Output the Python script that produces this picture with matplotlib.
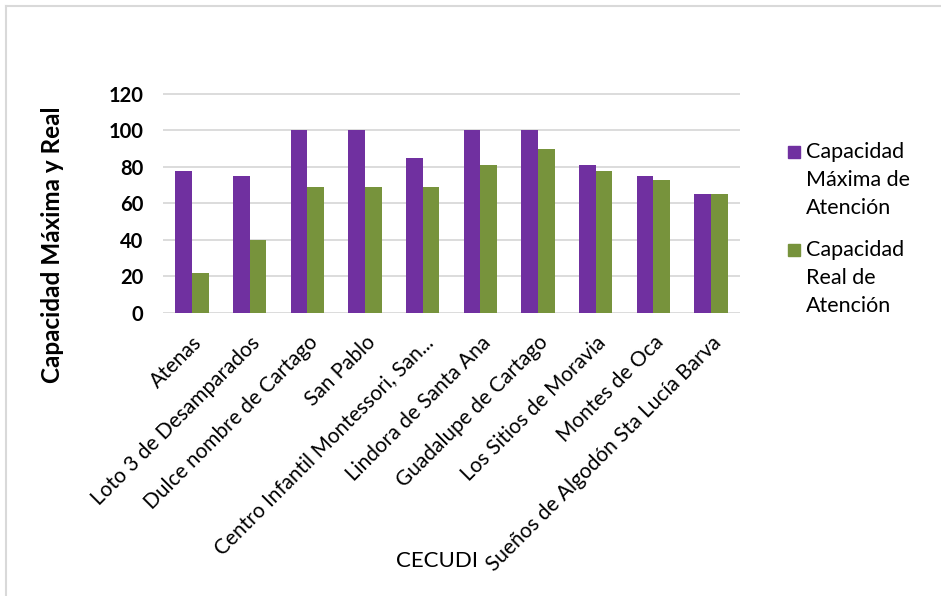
import numpy as np
import matplotlib.pyplot as plt
from matplotlib.lines import Line2D
from matplotlib.patches import Rectangle

plt.rcParams['font.family'] = ['Lato', 'DejaVu Sans']

# data
centros = ["Atenas", "Loto 3 de Desamparados", "Dulce nombre de Cartago", "San Pablo",
           "Centro Infantil Montessori, San...", "Lindora de Santa Ana",
           "Guadalupe de Cartago", "Los Sitios de Moravia", "Montes de Oca",
           "Sueños de Algodón Sta Lucía Barva"]
cap_maxima = [78, 75, 100, 100, 85, 100, 100, 81, 75, 65]
cap_real = [22, 40, 69, 69, 69, 81, 90, 78, 73, 65]
series_names = ["Capacidad\nMáxima de\nAtención", "Capacidad\nReal de\nAtención"]
y_ticks = [0, 20, 40, 60, 80, 100, 120]

PURPLE = "#7030A0"
GREEN = "#77933C"
W, H = 941, 596

fig = plt.figure(figsize=(W / 100, H / 100), dpi=100)
ax = fig.add_axes([163 / W, 1 - 313 / H, (740 - 163) / W, (313 - 92) / H])

x = np.arange(len(centros))
w = 0.29
ax.bar(x - w / 2, cap_maxima, w, color=PURPLE, zorder=3)
ax.bar(x + w / 2, cap_real, w, color=GREEN, zorder=3)

ax.set_xlim(-0.5, len(centros) - 0.5)
ax.set_ylim(0, 121)
ax.set_yticks(y_ticks)
ax.set_yticklabels([str(v) for v in y_ticks], fontsize=14.5, fontweight='bold')
ax.set_xticks(x)
ax.set_xticklabels(centros, rotation=45, ha='right', rotation_mode='anchor', fontsize=15)
ax.tick_params(length=0)
ax.tick_params(axis='x', pad=14)
ax.tick_params(axis='y', pad=14)
ax.yaxis.grid(True, color="#d9d9d9", linewidth=1.3, zorder=0)
for s in ax.spines.values():
    s.set_visible(False)

ax.set_ylabel("Capacidad Máxima y Real", fontsize=17.5, fontweight='bold')
ax.yaxis.set_label_coords((52 - 163) / 577, (313 - 245) / 221)
ax.yaxis.label.set_va('center')
fig.text(437 / W, 1 - 561 / H, "CECUDI", fontsize=16, ha='center', va='center')

# legend drawn like the original: square beside the first line of each entry
for i, (name, col) in enumerate(zip(series_names, [PURPLE, GREEN])):
    top = 142 + i * 98
    fig.add_artist(Rectangle((788 / W, 1 - (top + 16) / H), 12 / W, 12 / H,
                             transform=fig.transFigure, color=col))
    fig.text(806 / W, 1 - top / H, name, fontsize=15.5, va='top', ha='left',
             linespacing=1.5)

# outer chart frame (only top and left edges visible)
fig.add_artist(Line2D([6 / W, 6 / W], [0, 1 - 6 / H], transform=fig.transFigure,
                      color="#d9d9d9", linewidth=1.5))
fig.add_artist(Line2D([6 / W, 1], [1 - 6 / H, 1 - 6 / H], transform=fig.transFigure,
                      color="#d9d9d9", linewidth=1.5))

fig.savefig("out.png", dpi=100, facecolor="white")
